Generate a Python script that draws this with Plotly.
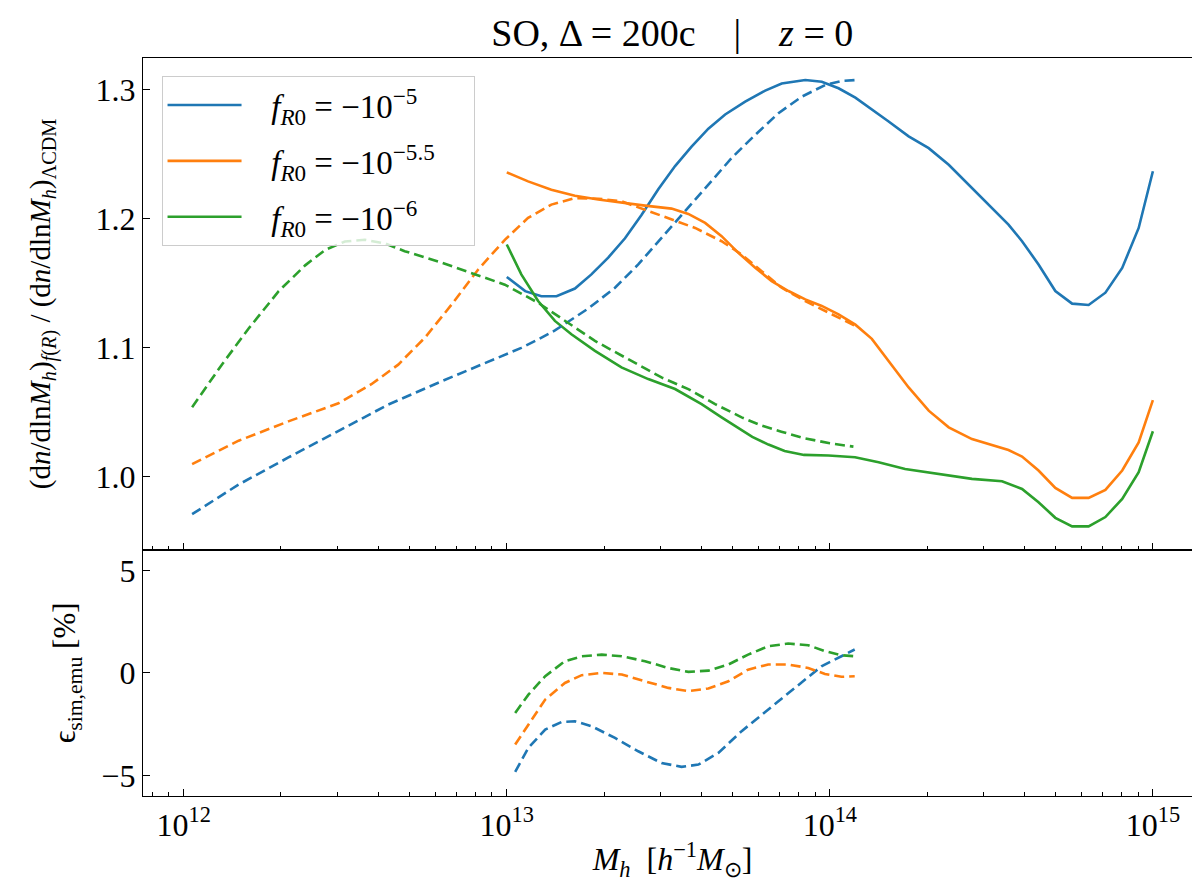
import numpy as np
import plotly.graph_objects as go
from plotly.subplots import make_subplots

"""
 Halo mass function ratio f(R) / LCDM, SO Delta=200c at z=0.
 Solid : simulation, dashed : emulator. Lower panel : sim vs emu error.
"""

# --- simulations (solid), x = log10(M_h) ---
logm_sim_m5 = [13.0, 13.057, 13.107, 13.154, 13.211, 13.262, 13.314, 13.366, 13.417, 13.469,
               13.521, 13.572, 13.624, 13.676, 13.738, 13.8, 13.851, 13.924, 13.975, 14.027,
               14.079, 14.13, 14.182, 14.244, 14.306, 14.368, 14.43, 14.491, 14.553, 14.595,
               14.646, 14.698, 14.75, 14.801, 14.853, 14.905, 14.956, 15.0]
ratio_sim_m5 = [1.155, 1.144, 1.140, 1.140, 1.146, 1.157, 1.170, 1.185, 1.203, 1.223,
                1.241, 1.256, 1.270, 1.281, 1.291, 1.2995, 1.305, 1.3077, 1.3064, 1.3013,
                1.294, 1.285, 1.2756, 1.264, 1.2549, 1.242, 1.2265, 1.2111, 1.1956, 1.1827,
                1.1647, 1.1441, 1.1343, 1.1333, 1.1428, 1.162, 1.193, 1.237]

logm_sim_m55 = [13.0, 13.066, 13.138, 13.211, 13.283, 13.355, 13.428, 13.51, 13.562, 13.614,
                13.665, 13.717, 13.769, 13.82, 13.872, 13.924, 13.975, 14.027, 14.079, 14.13,
                14.182, 14.244, 14.306, 14.368, 14.44, 14.50, 14.553, 14.595, 14.646, 14.698,
                14.75, 14.801, 14.853, 14.905, 14.956, 15.0]
ratio_sim_m55 = [1.2361, 1.2291, 1.2227, 1.218, 1.215, 1.2124, 1.2103, 1.208, 1.2039, 1.1969,
                 1.1866, 1.1737, 1.1621, 1.1518, 1.1441, 1.1376, 1.1325, 1.126, 1.118, 1.107,
                 1.09, 1.0693, 1.0513, 1.0384, 1.0293, 1.025, 1.0208, 1.0157, 1.0049, 0.9914,
                 0.9837, 0.9837, 0.9899, 1.0049, 1.0267, 1.0595]

logm_sim_m6 = [13.0, 13.045, 13.097, 13.149, 13.2, 13.273, 13.355, 13.438, 13.521, 13.603,
               13.665, 13.707, 13.76, 13.81, 13.86, 13.92, 13.996, 14.078, 14.151, 14.233,
               14.337, 14.44, 14.533, 14.595, 14.646, 14.698, 14.75, 14.801, 14.853, 14.905,
               14.956, 15.0]
ratio_sim_m6 = [1.1802, 1.157, 1.1363, 1.1209, 1.1106, 1.0977, 1.0848, 1.0758, 1.0681, 1.0564,
                1.0461, 1.0397, 1.031, 1.025, 1.020, 1.017, 1.0165, 1.0152, 1.0113, 1.0061,
                1.0022, 0.9984, 0.9966, 0.9906, 0.9803, 0.9682, 0.9616, 0.9616, 0.9688, 0.9829,
                1.0036, 1.0353]

# --- emulator (dashed) ---
logm_emu_m5 = [12.026, 12.170, 12.324, 12.479, 12.633, 12.788, 12.942, 13.045, 13.097, 13.149,
               13.252, 13.335, 13.407, 13.479, 13.552, 13.624, 13.696, 13.769, 13.841, 13.913,
               13.986, 14.037, 14.079]
ratio_emu_m5 = [0.971, 0.994, 1.015, 1.0356, 1.056, 1.073, 1.089, 1.100, 1.1065, 1.1135,
                1.1305, 1.1466, 1.1647, 1.1853, 1.2059, 1.2265, 1.2472, 1.2652, 1.282, 1.2948,
                1.3039, 1.307, 1.3077]

logm_emu_m55 = [12.026, 12.170, 12.324, 12.479, 12.582, 12.664, 12.747, 12.829, 12.911, 12.994,
                13.066, 13.138, 13.211, 13.283, 13.355, 13.428, 13.5, 13.583, 13.665, 13.727,
                13.789, 13.851, 13.924, 13.996, 14.079]
ratio_emu_m55 = [1.0098, 1.028, 1.043, 1.057, 1.072, 1.087, 1.108, 1.1335, 1.1606, 1.1838,
                 1.2008, 1.2111, 1.2162, 1.2157, 1.2137, 1.2072, 1.2008, 1.193, 1.1827, 1.1724,
                 1.1595, 1.1466, 1.1363, 1.1273, 1.117]

logm_emu_m6 = [12.026, 12.118, 12.201, 12.294, 12.376, 12.438, 12.499, 12.561, 12.623, 12.684,
               12.788, 12.901, 12.994, 13.097, 13.18, 13.273, 13.376, 13.479, 13.562, 13.645,
               13.727, 13.789, 13.85, 13.92, 14.0, 14.073]
ratio_emu_m6 = [1.054, 1.087, 1.115, 1.144, 1.164, 1.176, 1.1825, 1.1838, 1.181, 1.175,
                1.167, 1.157, 1.149, 1.135, 1.1209, 1.1054, 1.0912, 1.0771, 1.068, 1.0564,
                1.0461, 1.0397, 1.035, 1.030, 1.026, 1.0234]

# --- sim vs emu error [%] ---
logm_err_m5 = [13.026, 13.067, 13.119, 13.17, 13.211, 13.263, 13.335, 13.407, 13.479, 13.541,
               13.593, 13.655, 13.727, 13.809, 13.892, 13.974, 14.036, 14.077]
err_m5 = [-4.82, -3.65, -2.76, -2.39, -2.36, -2.60, -3.17, -3.82, -4.39, -4.58,
          -4.47, -3.90, -2.84, -1.79, -0.73, 0.32, 0.81, 1.14]

logm_err = [13.026, 13.067, 13.119, 13.18, 13.232, 13.294, 13.356, 13.428, 13.5, 13.562,
            13.624, 13.686, 13.747, 13.809, 13.871, 13.933, 13.985, 14.036, 14.077]
err_m55 = [-3.49, -2.52, -1.30, -0.49, -0.11, 0.0, -0.08, -0.41, -0.73, -0.89,
           -0.76, -0.41, 0.16, 0.41, 0.41, 0.24, -0.05, -0.19, -0.16]
err_m6 = [-1.95, -1.06, -0.16, 0.57, 0.81, 0.89, 0.81, 0.57, 0.24, 0.05,
          0.11, 0.41, 0.89, 1.30, 1.43, 1.35, 1.06, 0.86, 0.81]

PAD = '\u00a0\u00a0\u00a0'
TAIL = '\u00a0\u00a0\u00a0\u00a0'
labels = [PAD + '<i>f</i><sub><i>R</i>0</sub> = \u221210<sup>\u22125</sup>' + TAIL,
          PAD + '<i>f</i><sub><i>R</i>0</sub> = \u221210<sup>\u22125.5</sup>' + TAIL,
          PAD + '<i>f</i><sub><i>R</i>0</sub> = \u221210<sup>\u22126</sup>' + TAIL]
colors = ['#1f77b4', '#ff7f0e', '#2ca02c']

x_major = [1e12, 1e13, 1e14, 1e15]
x_major_text = ['10<sup>12</sup>', '10<sup>13</sup>', '10<sup>14</sup>', '10<sup>15</sup>']
x_minor = [m * 10 ** e for e in (11, 12, 13, 14, 15) for m in range(2, 10)]

FONT = 'Liberation Serif'
LW = 2.6
DASH = '10px,5px'


def m(logm):
    return 10 ** np.array(logm)


fig = make_subplots(rows=2, cols=1, shared_xaxes=True, vertical_spacing=0)

sims = [(logm_sim_m5, ratio_sim_m5), (logm_sim_m55, ratio_sim_m55), (logm_sim_m6, ratio_sim_m6)]
emus = [(logm_emu_m5, ratio_emu_m5), (logm_emu_m55, ratio_emu_m55), (logm_emu_m6, ratio_emu_m6)]
errs = [(logm_err_m5, err_m5), (logm_err, err_m55), (logm_err, err_m6)]

for i in range(3):
    fig.add_trace(go.Scatter(x=m(sims[i][0]), y=sims[i][1], mode='lines', name=labels[i],
                             legendgroup=str(i), line=dict(color=colors[i], width=LW)),
                  row=1, col=1)
for i in range(3):
    fig.add_trace(go.Scatter(x=m(emus[i][0]), y=emus[i][1], mode='lines', showlegend=False,
                             line=dict(color=colors[i], width=LW, dash=DASH)),
                  row=1, col=1)
for i in range(3):
    fig.add_trace(go.Scatter(x=m(errs[i][0]), y=errs[i][1], mode='lines', showlegend=False,
                             line=dict(color=colors[i], width=LW, dash=DASH)),
                  row=2, col=1)

axis_common = dict(showline=True, linecolor='black', linewidth=1.4, mirror=True,
                   ticks='inside', ticklen=7, tickwidth=1.2, tickcolor='black',
                   showgrid=False, zeroline=False, automargin=False,
                   tickfont=dict(family=FONT, size=32, color='black'))

xaxis_common = dict(axis_common, type='log', range=[11.874, 15.152],
                    tickmode='array', tickvals=x_major, ticktext=x_major_text,
                    minor=dict(tickmode='array', tickvals=x_minor, ticks='inside',
                               ticklen=4, tickwidth=1, tickcolor='black', showgrid=False))

fig.update_xaxes(**xaxis_common, showticklabels=False, row=1, col=1)
fig.update_xaxes(**xaxis_common, row=2, col=1)
fig.update_xaxes(title=dict(text='<i>M<sub>h</sub></i> \u00a0[<i>h</i><sup>\u22121</sup><i>M</i><sub>\u2299</sub>]',
                            font=dict(family=FONT, size=32, color='black'), standoff=6),
                 row=2, col=1)

fig.update_yaxes(**axis_common, range=[0.9434, 1.3248], tickvals=[1.0, 1.1, 1.2, 1.3],
                 tickformat='.1f',
                 title=dict(text='(d<i>n</i>/dln<i>M<sub>h</sub></i>)<sub><i>f</i>(<i>R</i>)</sub>'
                                 ' / (d<i>n</i>/dln<i>M<sub>h</sub></i>)<sub>\u039bCDM</sub>',
                            font=dict(family=FONT, size=29, color='black'), standoff=36),
                 row=1, col=1)
fig.update_yaxes(**axis_common, range=[-6, 6], tickvals=[-5, 0, 5],
                 title=dict(text='\u03f5<sub>sim,emu</sub> [%]',
                            font=dict(family=FONT, size=31, color='black'), standoff=16),
                 row=2, col=1)

fig.update_layout(
    width=1200, height=883,
    margin=dict(l=135, r=6, t=50, b=95, autoexpand=False),
    paper_bgcolor='white', plot_bgcolor='white',
    yaxis=dict(domain=[0.3336, 1.0]),
    yaxis2=dict(domain=[0.0, 0.3336]),
    title=dict(text='SO, \u0394 = 200c \u00a0 \u00a0| \u00a0 \u00a0<i>z</i> = 0',
               x=0.5536, xanchor='center', y=0.972, yanchor='middle',
               font=dict(family=FONT, size=38, color='black')),
    legend=dict(x=0.0175, y=0.9756, xanchor='left', yanchor='top',
                bgcolor='rgba(255,255,255,0.8)', bordercolor='#cccccc', borderwidth=1,
                font=dict(family=FONT, size=33, color='black'),
                tracegroupgap=10, itemwidth=74),
    font=dict(family=FONT, color='black'),
)

fig.write_html("out.html")
